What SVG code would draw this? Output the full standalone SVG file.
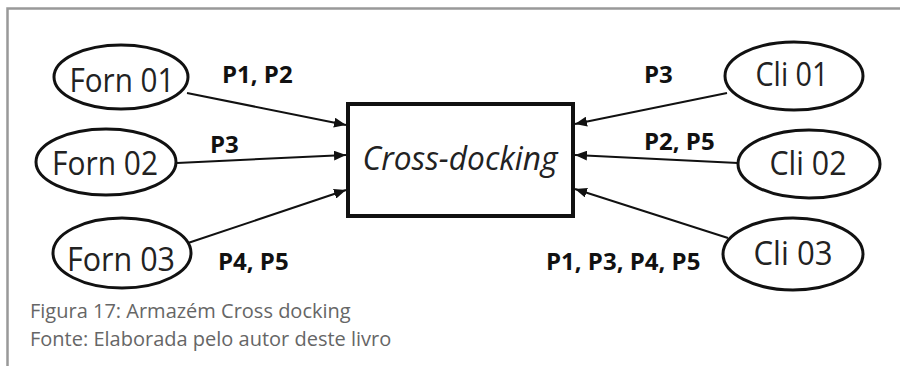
<svg xmlns="http://www.w3.org/2000/svg" width="900" height="366" viewBox="0 0 900 366">
<style>
.node ellipse{fill:#fff;stroke:#111;stroke-width:3}
.lbl{font-family:"Open Sans","Liberation Sans",sans-serif;font-size:32px;fill:#222;text-anchor:middle}
.edge{stroke:#111;stroke-width:2;fill:none}
.el{font-family:"Open Sans","Liberation Sans",sans-serif;font-size:24px;font-weight:bold;fill:#111}
.cap{font-family:"Open Sans","Liberation Sans",sans-serif;font-size:20px;fill:#666}
</style>
<defs>
<marker id="ah" viewBox="0 0 12 10" refX="12" refY="5" markerWidth="12" markerHeight="10" markerUnits="userSpaceOnUse" orient="auto">
<path d="M0,0 L12,5 L0,10 Z" fill="#111"/>
</marker>
</defs>
<rect width="900" height="366" fill="#fff"/>
<path d="M7.5,366 V8.5 H900" fill="none" stroke="#999" stroke-width="2.5"/>
<g id="connectors">
<line class="edge" x1="187" y1="93" x2="346" y2="125" marker-end="url(#ah)"/>
<line class="edge" x1="177" y1="163" x2="346" y2="155" marker-end="url(#ah)"/>
<line class="edge" x1="188" y1="243" x2="346" y2="190" marker-end="url(#ah)"/>
<line class="edge" x1="727" y1="93" x2="575" y2="124" marker-end="url(#ah)"/>
<line class="edge" x1="738" y1="163" x2="575" y2="155" marker-end="url(#ah)"/>
<line class="edge" x1="728" y1="238" x2="575" y2="189" marker-end="url(#ah)"/>
<text class="el" x="222" y="83">P1, P2</text>
<text class="el" x="210" y="153">P3</text>
<text class="el" x="218" y="270">P4, P5</text>
<text class="el" x="644" y="83">P3</text>
<text class="el" x="644" y="150">P2, P5</text>
<text class="el" x="546" y="270">P1, P3, P4, P5</text>
</g>
<g id="forn01" class="node"><ellipse cx="121" cy="77" rx="67" ry="32"/><text class="lbl" x="122" y="92" textLength="105" lengthAdjust="spacingAndGlyphs">Forn 01</text></g>
<g id="forn02" class="node"><ellipse cx="106" cy="162" rx="70" ry="33"/><text class="lbl" x="105" y="175" textLength="106" lengthAdjust="spacingAndGlyphs">Forn 02</text></g>
<g id="forn03" class="node"><ellipse cx="122" cy="253" rx="69" ry="35"/><text class="lbl" x="121" y="271" textLength="108" lengthAdjust="spacingAndGlyphs">Forn 03</text></g>
<g id="cli01" class="node"><ellipse cx="794" cy="76" rx="69" ry="34"/><text class="lbl" x="792" y="86" textLength="73" lengthAdjust="spacingAndGlyphs">Cli 01</text></g>
<g id="cli02" class="node"><ellipse cx="809" cy="164" rx="71" ry="34"/><text class="lbl" x="808" y="175" textLength="77" lengthAdjust="spacingAndGlyphs">Cli 02</text></g>
<g id="cli03" class="node"><ellipse cx="793" cy="254" rx="70" ry="36"/><text class="lbl" x="793" y="265" textLength="79" lengthAdjust="spacingAndGlyphs">Cli 03</text></g>
<g id="crossdocking" class="node"><rect x="348" y="104" width="225" height="112" fill="#fff" stroke="#111" stroke-width="4"/><text class="lbl" x="460" y="170" font-style="italic" textLength="195" lengthAdjust="spacingAndGlyphs">Cross-docking</text></g>
<text class="cap" x="30" y="318">Figura 17: Armazém Cross docking</text>
<text class="cap" x="30" y="346">Fonte: Elaborada pelo autor deste livro</text>
</svg>
